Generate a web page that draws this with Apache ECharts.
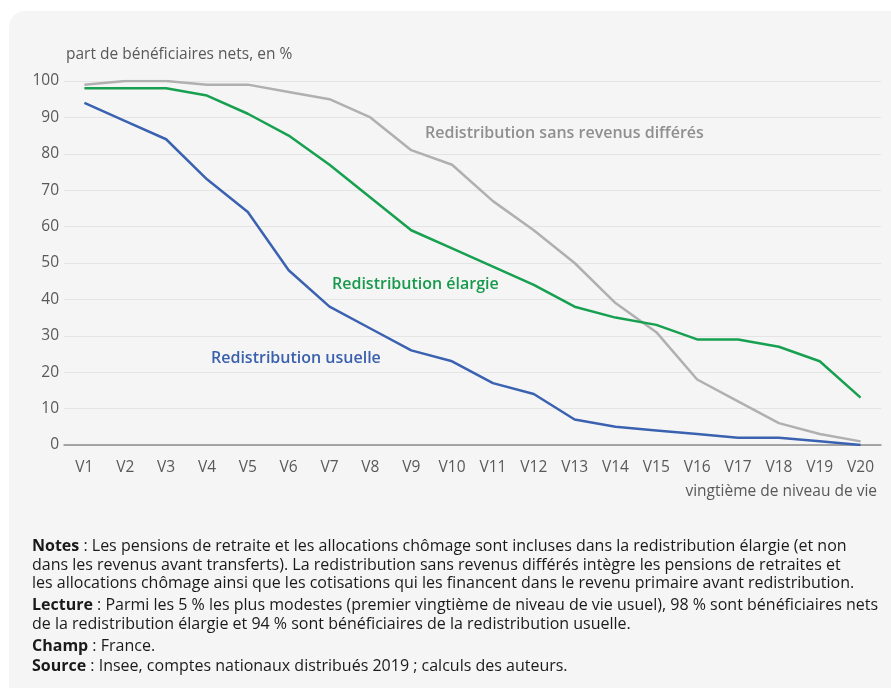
<!DOCTYPE html>
<html><head><meta charset="utf-8">
<script src="https://cdn.jsdelivr.net/npm/echarts@6/dist/echarts.min.js"></script>
<style>html,body{margin:0;padding:0;background:#fff}#c{width:891px;height:688px}</style>
</head><body><div id="c"></div>
<script>
const categories = ['V1','V2','V3','V4','V5','V6','V7','V8','V9','V10','V11','V12','V13','V14','V15','V16','V17','V18','V19','V20'];
const sansRevenusDifferes = [99,100,100,99,99,97,95,90,81,77,67,59,50,39,31,18,12,6,3,1];
const elargie = [98,98,98,96,91,85,77,68,59,54,49,44,38,35,33,29,29,27,23,13];
const usuelle = [94,89,84,73,64,48,38,32,26,23,17,14,7,5,4,3,2,2,1,0];
const yTicks = [0,10,20,30,40,50,60,70,80,90,100];

const FONT = '"Open Sans", "Noto Sans", sans-serif';
const chart = echarts.init(document.getElementById('c'), null, {renderer:'canvas'});

const notes = [
  {b:'Notes', t:' : Les pensions de retraite et les allocations chômage sont incluses dans la redistribution élargie (et non', y:546},
  {b:'', t:'dans les revenus avant transferts). La redistribution sans revenus différés intègre les pensions de retraites et', y:565},
  {b:'', t:'les allocations chômage ainsi que les cotisations qui les financent dans le revenu primaire avant redistribution.', y:583},
  {b:'Lecture', t:' : Parmi les 5 % les plus modestes (premier vingtième de niveau de vie usuel), 98 % sont bénéficiaires nets', y:605},
  {b:'', t:'de la redistribution élargie et 94 % sont bénéficiaires de la redistribution usuelle.', y:624},
  {b:'Champ', t:' : France.', y:646},
  {b:'Source', t:' : Insee, comptes nationaux distribués 2019 ; calculs des auteurs.', y:666}
];

const graphics = [
  {type:'rect', z:-10, shape:{x:9, y:11, width:900, height:700, r:16}, style:{fill:'#f5f5f5'}},
  {type:'text', x:66, y:55, style:{text:'part de bénéficiaires nets, en %', fill:'#595959', font:'15.5px '+FONT, verticalAlign:'middle'}},
  {type:'text', x:877, y:492, style:{text:'vingtième de niveau de vie', fill:'#595959', font:'15.5px '+FONT, align:'right', verticalAlign:'middle'}},
  {type:'text', x:425, y:133, style:{text:'Redistribution sans revenus différés', fill:'#8f8f8f', font:'600 16px '+FONT, verticalAlign:'middle'}},
  {type:'text', x:332, y:284, style:{text:'Redistribution élargie', fill:'#179a4c', font:'600 16px '+FONT, verticalAlign:'middle'}},
  {type:'text', x:211, y:358, style:{text:'Redistribution usuelle', fill:'#3a60ae', font:'600 16px '+FONT, verticalAlign:'middle'}}
];
notes.forEach(n => {
  graphics.push({type:'text', x:32, y:n.y, style:{
    text:(n.b ? '{b|'+n.b+'}' : '') + '{n|'+n.t+'}',
    verticalAlign:'middle',
    rich:{ b:{font:'bold 16px '+FONT, fill:'#1a1a1a'}, n:{font:'16px '+FONT, fill:'#1a1a1a'} }
  }});
});

chart.setOption({
  backgroundColor:'#ffffff',
  animation:false,
  textStyle:{fontFamily:FONT},
  grid:{left:64, right:10, top:81, bottom:243, containLabel:false},
  xAxis:{
    type:'category', data:categories, boundaryGap:true,
    axisLine:{lineStyle:{color:'#8c8c8c', width:1.5}},
    axisTick:{show:false},
    axisLabel:{color:'#595959', fontSize:15.5, margin:15, fontFamily:FONT}
  },
  yAxis:{
    type:'value', min:0, max:100, interval:10,
    axisLine:{show:false}, axisTick:{show:false},
    axisLabel:{color:'#595959', fontSize:15.5, margin:5, fontFamily:FONT,
      formatter:v => yTicks.includes(v) ? String(v) : ''},
    splitLine:{lineStyle:{color:'#e4e4e4', width:1.2}}
  },
  series:[
    {type:'line', name:'Redistribution sans revenus différés', data:sansRevenusDifferes, symbol:'none', lineStyle:{color:'#b0b0b0', width:2.5}, z:2},
    {type:'line', name:'Redistribution élargie', data:elargie, symbol:'none', lineStyle:{color:'#17a050', width:2.5}, z:3},
    {type:'line', name:'Redistribution usuelle', data:usuelle, symbol:'none', lineStyle:{color:'#3b62b0', width:2.5}, z:4}
  ],
  graphic:graphics
});
</script></body></html>
